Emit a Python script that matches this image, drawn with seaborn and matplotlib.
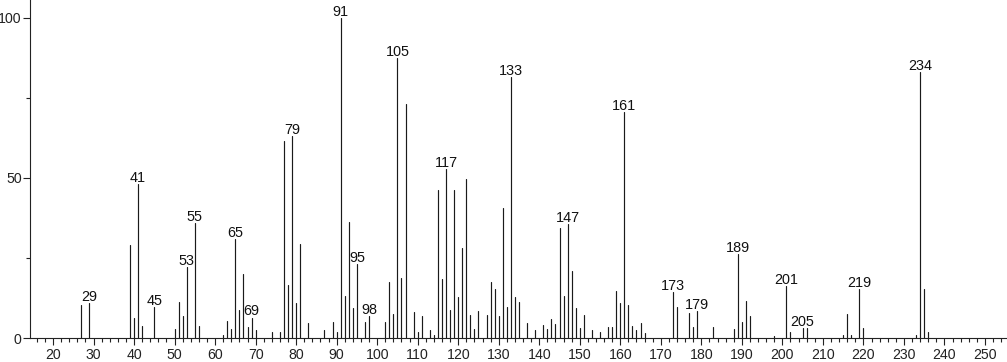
import matplotlib
matplotlib.use("Agg")
import matplotlib.pyplot as plt
from matplotlib.ticker import MultipleLocator
import numpy as np
import pandas as pd
import seaborn as sns

# m/z values and relative intensities
mz = [27, 29, 39, 40, 41, 42, 45, 50, 51, 52, 53, 55, 56, 62, 63, 64, 65, 66, 67, 68,
      69, 70, 74, 76, 77, 78, 79, 80, 81, 83, 87, 89, 90, 91, 92, 93, 94, 95, 97, 98,
      102, 103, 104, 105, 106, 107, 109, 110, 111, 113, 114, 115, 116, 117, 118, 119,
      120, 121, 122, 123, 124, 125, 127, 128, 129, 130, 131, 132, 133, 134, 135, 137,
      139, 141, 142, 143, 144, 145, 146, 147, 148, 149, 150, 151, 153, 155, 157, 158,
      159, 160, 161, 162, 163, 164, 165, 166, 173, 174, 177, 178, 179, 183, 188, 189,
      190, 191, 192, 198, 201, 202, 205, 206, 215, 216, 217, 219, 220, 233, 234, 235, 236]
intensity = [10.3, 11.0, 29.1, 6.4, 48.1, 3.8, 9.6, 2.8, 11.3, 7.0, 22.3, 35.8, 3.8, 0.9,
             5.3, 2.8, 30.8, 8.8, 20.0, 3.3, 6.4, 2.5, 1.8, 1.9, 61.7, 16.6, 63.1, 11.0,
             29.4, 4.8, 2.5, 5.0, 1.9, 100.0, 13.1, 36.3, 9.5, 23.0, 5.0, 6.9, 5.0, 17.6,
             7.5, 87.4, 18.9, 73.1, 8.2, 1.8, 6.9, 2.5, 0.9, 46.3, 18.4, 52.7, 8.8, 46.3,
             12.9, 28.0, 49.7, 7.2, 2.7, 8.5, 7.2, 17.6, 15.4, 6.9, 40.5, 9.6, 81.5, 12.7,
             11.1, 4.6, 2.5, 4.1, 2.7, 5.9, 4.4, 34.4, 13.2, 35.5, 20.9, 9.4, 3.0, 7.2,
             2.5, 1.8, 3.3, 3.5, 14.7, 11.0, 70.5, 10.3, 3.6, 2.5, 4.6, 1.6, 14.3, 9.6,
             7.7, 3.5, 8.5, 3.5, 2.7, 26.3, 5.0, 11.6, 6.9, 0.6, 16.3, 1.8, 3.0, 3.0, 0.9,
             7.5, 0.9, 15.3, 3.0, 0.9, 83.0, 15.2, 1.9]
labelled = [29, 41, 45, 53, 55, 65, 69, 79, 91, 95, 98, 105, 117, 133, 147, 161, 173,
            179, 189, 201, 205, 219, 234]
x_ticks = list(range(20, 251, 10))
y_ticks = [0, 50, 100]

sns.set_style("ticks")
plt.rcParams['font.family'] = ['Liberation Sans', 'DejaVu Sans']

# long-form table: each stem is a two-point line from the baseline to its intensity
rows = []
for m, v in zip(mz, intensity):
    rows.append({"mz": m, "y": 0.0, "peak": m})
    rows.append({"mz": m, "y": v, "peak": m})
df = pd.DataFrame(rows)

fig = plt.figure(figsize=(10.07, 3.62), dpi=100)
ax = fig.add_axes([30 / 1007, 24 / 362, 977 / 1007, 338 / 362])

sns.lineplot(data=df, x="mz", y="y", units="peak", estimator=None, sort=False,
             color="#1a1a1a", linewidth=0.85, ax=ax, legend=False)

lookup = dict(zip(mz, intensity))
for m in labelled:
    ax.annotate(str(m), (m, lookup[m]), xytext=(0, 1.5), textcoords="offset points",
                ha="center", va="baseline", fontsize=10.4, color="#111111")

ax.set_xlim(14.32, 255.44)
ax.set_ylim(0, 105.6)
ax.set_xticks(x_ticks)
ax.set_yticks(y_ticks)
ax.xaxis.set_minor_locator(MultipleLocator(2))
ax.yaxis.set_minor_locator(MultipleLocator(25))
ax.set_xlabel("")
ax.set_ylabel("")
ax.tick_params(which="major", direction="out", length=5, width=0.8, labelsize=10.2,
               colors="#222222")
ax.tick_params(axis="x", which="major", pad=2)
ax.tick_params(axis="y", which="major", pad=1)
ax.tick_params(which="minor", direction="out", length=3, width=0.8, colors="#222222")
for s in ["left", "bottom"]:
    ax.spines[s].set_color("#222222")
    ax.spines[s].set_linewidth(0.8)
sns.despine(ax=ax)

fig.savefig("out.png", dpi=100)
